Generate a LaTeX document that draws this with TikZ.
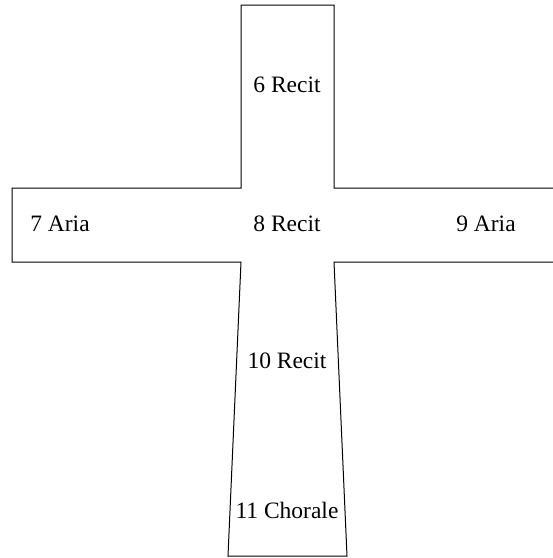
\documentclass[tikz,border=0pt]{standalone}
\usepackage{fontspec}
\setmainfont{Liberation Serif}
\begin{document}
\begin{tikzpicture}[
    x=1pt, y=-1pt,
    % Define styles
    part/.style={inner sep=0pt, font=\fontsize{23.5}{28}\selectfont},
    outline/.style={draw=black, line width=1pt, line join=miter}
]
\useasboundingbox (0,0) rectangle (553,558);

% Cross outline
\coordinate (top_left) at (241,5);
\coordinate (top_right) at (334,5);
\coordinate (arm_left_top) at (12,188);
\coordinate (arm_left_bot) at (12,262);
\coordinate (foot_left) at (228,556);
\coordinate (foot_right) at (347,556);

\draw[outline] (553,188) -- (334,188) -- (top_right) -- (top_left) -- (241,188)
    -- (arm_left_top) -- (arm_left_bot) -- (241,262) -- (foot_left)
    -- (foot_right) -- (334,262) -- (553,262);

% Movements
\node[part] (recit_six) at (287,85) {6 Recit};
\node[part] (aria_seven) at (60,224) {7 Aria};
\node[part] (recit_eight) at (287,224) {8 Recit};
\node[part] (aria_nine) at (486,224) {9 Aria};
\node[part] (recit_ten) at (287,361) {10 Recit};
\node[part] (chorale_eleven) at (287,510) {11 Chorale};

\end{tikzpicture}
\end{document}
